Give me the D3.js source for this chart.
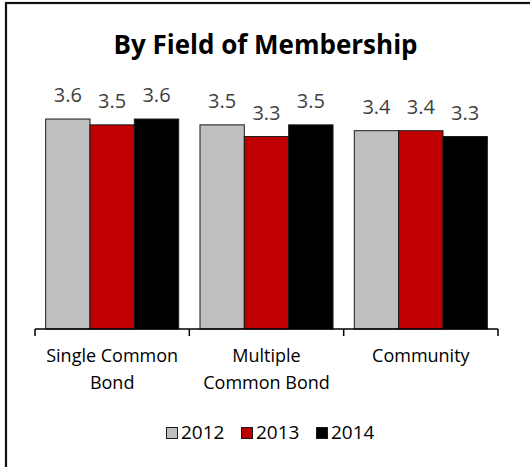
<!DOCTYPE html>
<html>
<head>
<meta charset="utf-8">
<script src="https://cdn.jsdelivr.net/npm/d3@7"></script>
<style>
  body { margin: 0; background: #fff; }
  text { font-family: "Open Sans", sans-serif; }
</style>
</head>
<body>
<div id="chart"></div>
<script>
// chart data
let categories = ["Single Common|Bond", "Multiple|Common Bond", "Community"];
let years = ["2012", "2013", "2014"];
let values2012 = [3.6, 3.5, 3.4];
let values2013 = [3.5, 3.3, 3.4];
let values2014 = [3.6, 3.5, 3.3];
let colors = ["#bfbfbf", "#c00000", "#000000"];

let svgWidth = 530;
let svgHeight = 467;
let series = [values2012, values2013, values2014];

let svg = d3.select("#chart").append("svg")
  .attr("width", svgWidth)
  .attr("height", svgHeight);

// outer frame, runs off the bottom/right edge
svg.append("rect")
  .attr("x", 6).attr("y", 3)
  .attr("width", 540).attr("height", 480)
  .attr("fill", "none")
  .attr("stroke", "#111")
  .attr("stroke-width", 2.2);

svg.append("text")
  .attr("x", 265.5).attr("y", 54)
  .attr("text-anchor", "middle")
  .style("font-size", "26px")
  .style("font-weight", "bold")
  .text("By Field of Membership");

let x0 = d3.scaleBand().domain(categories).range([35, 498]).padding(0);
let x1 = d3.scaleBand().domain(years).range([0, x0.bandwidth()]).paddingInner(0).paddingOuter(0.24);
let y = d3.scaleLinear().domain([0, 4]).range([329, 95.7]);

let groups = svg.selectAll("g.cat").data(categories).enter().append("g")
  .attr("class", "cat")
  .attr("transform", d => "translate(" + x0(d) + ",0)");

groups.each(function(cat, ci) {
  let g = d3.select(this);
  years.forEach((yr, si) => {
    let v = series[si][ci];
    g.append("rect")
      .attr("x", x1(yr))
      .attr("y", y(v))
      .attr("width", x1.bandwidth())
      .attr("height", y(0) - y(v))
      .attr("fill", colors[si])
      .attr("stroke", "#1a1a1a")
      .attr("stroke-width", 1);
    g.append("text")
      .attr("x", x1(yr) + x1.bandwidth() / 2)
      .attr("y", y(v) - 17)
      .attr("text-anchor", "middle")
      .style("font-size", "20px")
      .attr("fill", "#404040")
      .text(v.toFixed(1));
  });
});

// category axis
let axisG = svg.append("g").attr("transform", "translate(0,329)");
axisG.append("line")
  .attr("x1", x0.range()[0]).attr("x2", x0.range()[1])
  .attr("stroke", "#000").attr("stroke-width", 1.5);
let tickPos = categories.map(c => x0(c)).concat([x0.range()[1]]);
axisG.selectAll("line.tick").data(tickPos).enter().append("line")
  .attr("class", "tick")
  .attr("x1", d => d).attr("x2", d => d)
  .attr("y1", 0).attr("y2", 7)
  .attr("stroke", "#000").attr("stroke-width", 1.5);

categories.forEach(c => {
  let lines = c.split("|");
  let t = svg.append("text")
    .attr("text-anchor", "middle")
    .style("font-size", "18px")
    .attr("fill", "#000");
  lines.forEach((ln, i) => {
    t.append("tspan")
      .attr("x", x0(c) + x0.bandwidth() / 2)
      .attr("y", 362 + i * 27)
      .text(ln);
  });
});

// legend
let legend = svg.selectAll("g.leg").data(years).enter().append("g")
  .attr("class", "leg")
  .attr("transform", (d, i) => "translate(" + (166 + i * 75) + ",427)");
legend.append("rect")
  .attr("x", 0.5).attr("y", 0.5)
  .attr("width", 11).attr("height", 11)
  .attr("fill", (d, i) => colors[i])
  .attr("stroke", "#1a1a1a").attr("stroke-width", 1);
legend.append("text")
  .attr("x", 15).attr("y", 12)
  .style("font-size", "19px")
  .attr("fill", "#000")
  .text(d => d);
</script>
</body>
</html>
